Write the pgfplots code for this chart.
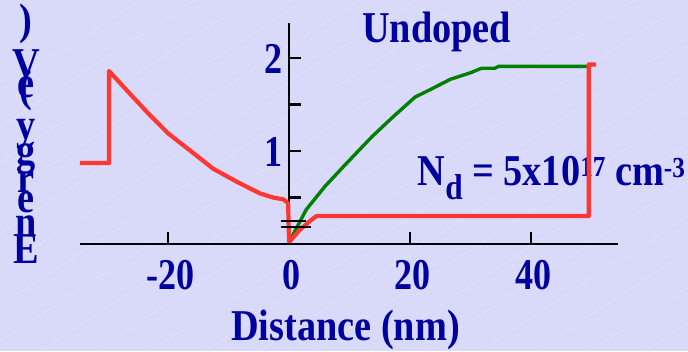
\documentclass[border=0pt]{standalone}
\usepackage{fontspec}
\setmainfont{Liberation Serif}[FakeStretch=0.87]
\newfontfamily\tickfamily{Liberation Serif}[FakeStretch=0.82]
\usepackage{pgfplots}
\pgfplotsset{compat=1.18}

\definecolor{bg}{RGB}{217,217,250}
\definecolor{ink}{RGB}{0,0,160}
\definecolor{cband}{RGB}{255,55,50}
\definecolor{vband}{RGB}{0,128,0}

\newcommand{\slidefont}{\fontsize{44}{44}\selectfont\bfseries}
\newcommand{\tickfont}{\tickfamily\fontsize{44}{44}\selectfont\bfseries}

\begin{document}
\begin{tikzpicture}[x=1pt,y=1pt]
% slide background with a faint diagonal sheen
\fill[bg] (-80,-107) rectangle (608,244);
\begin{scope}
  \clip (-80,-107) rectangle (608,244);
  \foreach \k in {-480,-425,...,640}
    \draw[white,opacity=0.3,line width=0.6pt] (\k,-107) -- ++(560,364);
\end{scope}

% vertical axis title, letters stacked upright
\begin{scope}[every node/.style={inner sep=0pt,anchor=base,text=ink,font=\slidefont}]
  \node at (-54,-19) {E};
  \node at (-54,8)   {n};
  \node at (-54,31)  {e};
  \node at (-54,52)  {r};
  \node at (-54,79)  {g};
  \node at (-54,104) {y};
  \node at (-54,142) {(};
  \node at (-54,146) {e};
  \node at (-54,165) {V};
  \node at (-54,209) {)};
\end{scope}

% annotations
\node[inner sep=0pt,anchor=base west,text=ink,font=\slidefont] at (282,201) {Undoped};
\node[inner sep=0pt,anchor=base west,text=ink,font=\slidefont] at (337.5,58.3)
  {N\raisebox{-14pt}{\fontsize{36}{36}\selectfont d} = 5x10\raisebox{9pt}{\fontsize{29}{29}\selectfont 17} cm\raisebox{8pt}{\fontsize{29}{29}\selectfont -3}};
\node[inner sep=0pt,anchor=base west,text=ink,font=\fontsize{44}{44}\selectfont\bfseries] at (151,-96.5) {Distance (nm)};

\begin{axis}[
  at={(0,0)}, anchor=south west, scale only axis,
  width=537.8pt, height=221pt,
  xmin=-34.5, xmax=54.4, ymin=0, ymax=2.376,
  axis x line=bottom, axis y line=middle,
  axis line style={line width=2.2pt,-},
  xtick={-20,0,20,40}, ytick={1,2}, minor ytick={0.5,1.5},
  tick align=inside,
  major tick length=12pt, minor tick length=12pt,
  every tick/.style={black,line width=2.2pt},
  ticklabel style={font=\tickfont, text=ink},
  xticklabel style={yshift=-13pt, xshift=3pt},
  yticklabel style={xshift=-3pt, yshift=-1pt},
  /pgf/number format/assume math mode=true,
  clip=false,
]
% valence band edge
\addplot[vband, line width=3.4pt, line join=round] coordinates {
  (0.3,0.05) (2.9,0.37) (6.0,0.62) (9.6,0.87) (13.7,1.15) (17.3,1.37)
  (20.9,1.58) (23.4,1.66) (26.7,1.77) (30.0,1.84) (31.9,1.89) (34.1,1.89)
  (34.7,1.91) (49.4,1.91)
};
% conduction band edge
\addplot[cband, line width=4.2pt, line join=round] coordinates {
  (-34.5,0.87) (-29.7,0.87) (-29.7,1.86) (-26.6,1.64) (-23.3,1.41)
  (-19.95,1.19) (-16.4,1.01) (-12.5,0.81) (-8.6,0.67) (-4.8,0.545)
  (-2.6,0.50) (-0.9,0.48) (-0.1,0.44) (0.05,0.03) (0.2,0.03) (1.8,0.15)
  (3.75,0.26) (4.6,0.30) (49.6,0.30) (49.6,1.93) (50.8,1.93)
};
% Fermi level markers
\draw[black,line width=2pt] (axis cs:-1.3,0.25) -- (axis cs:2.9,0.25);
\draw[black,line width=2pt] (axis cs:-1.3,0.186) -- (axis cs:3.75,0.186);
\end{axis}
\pgfresetboundingbox
\useasboundingbox (-80,-107) rectangle (608,244);
\end{tikzpicture}
\end{document}
